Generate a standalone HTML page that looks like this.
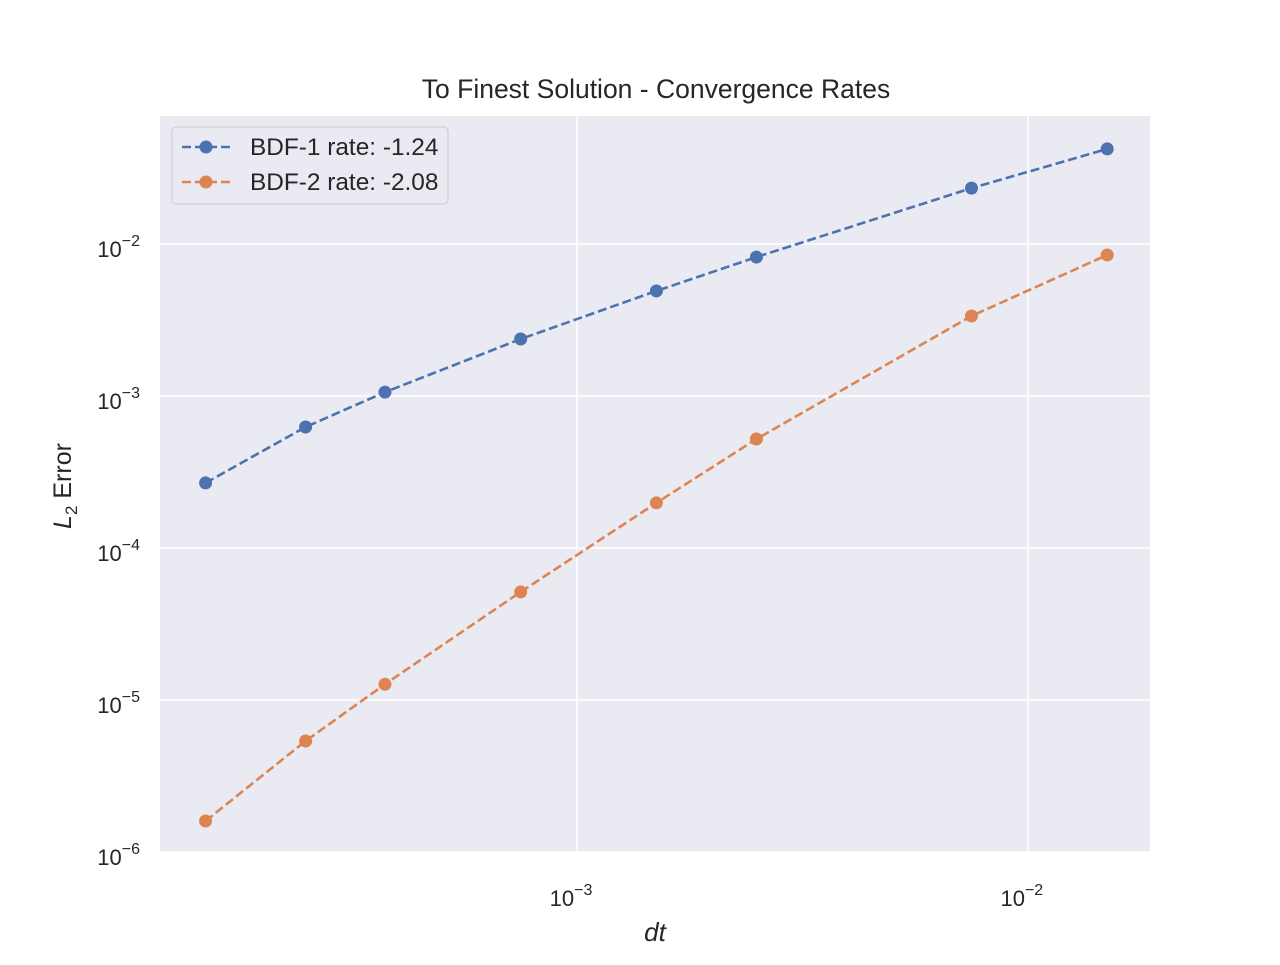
<!DOCTYPE html>
<html><head><meta charset="utf-8"><style>
body{margin:0;background:#fff;font-family:"Liberation Sans","DejaVu Sans",sans-serif;}
</style></head><body>
<svg id="chart" width="1280" height="960" xmlns="http://www.w3.org/2000/svg"></svg>
<script>
const dtValues=[1.5e-4,2.5e-4,3.75e-4,7.5e-4,1.5e-3,2.5e-3,7.5e-3,1.5e-2];
const bdf1Errors=[2.68e-4,6.25e-4,1.06e-3,2.37e-3,4.91e-3,8.2e-3,2.33e-2,4.22e-2];
const bdf2Errors=[1.6e-6,5.37e-6,1.27e-5,5.14e-5,1.98e-4,5.21e-4,3.36e-3,8.47e-3];
const xTickExps=[-3,-2];
const yTickExps=[-2,-3,-4,-5,-6];
const seriesNames=["BDF-1 rate: -1.24","BDF-2 rate: -2.08"];

const NS="http://www.w3.org/2000/svg";
const svg=document.getElementById('chart');
const L=160,R=1150,T=116,B=852;
const xMin=-3.925,xMax=-1.729,yMin=-6,yMax=-1.158;
const xs=v=>L+(Math.log10(v)-xMin)/(xMax-xMin)*(R-L);
const ys=v=>B-(Math.log10(v)-yMin)/(yMax-yMin)*(B-T);
function el(tag,attrs,parent){const e=document.createElementNS(NS,tag);for(const k in attrs)e.setAttribute(k,attrs[k]);(parent||svg).appendChild(e);return e;}

const bg=el('rect',{x:L,y:T,width:R-L,height:B-T,fill:'#eaeaf2'});



xTickExps.forEach(e=>{
  const x=xs(Math.pow(10,e));
  const g=el('line',{x1:x,x2:x,y1:T,y2:B,stroke:'#fff','stroke-width':1.5});
  
  
  const t=el('text',{x:x-6,y:906,'font-size':22,fill:'#262626','text-anchor':'middle'});
  
  
  t.innerHTML='10<tspan dy="-11" font-size="16">−'+(-e)+'</tspan>';
});
yTickExps.forEach(e=>{
  const y=ys(Math.pow(10,e));
  const g=el('line',{x1:L,x2:R,y1:y,y2:y,stroke:'#fff','stroke-width':1.5});
  
  
  const t=el('text',{x:140,y:y+13,'font-size':22,fill:'#262626','text-anchor':'end'});
  
  
  t.innerHTML='10<tspan dy="-11" font-size="16">−'+(-e)+'</tspan>';
});

const colors=['#4c72b0','#dd8452'];
[bdf1Errors,bdf2Errors].forEach((arr,si)=>{
  const pts=arr.map((v,i)=>xs(dtValues[i])+','+ys(v)).join(' ');
  const pl=el('polyline',{points:pts,fill:'none',stroke:colors[si],'stroke-width':2.6,'stroke-dasharray':'9,4'});
  
  
  arr.forEach((v,i)=>{
    const c=el('circle',{cx:xs(dtValues[i]),cy:ys(v),r:6.5,fill:colors[si]});
    
    
  });
});

const lg=el('g',{});


el('rect',{x:172,y:127,width:276,height:77,rx:4,fill:'#eaeaf2',stroke:'#ccc','stroke-width':1},lg);
seriesNames.forEach((n,i)=>{
  const y=147+i*35;
  const ent=el('g',{},lg);
  
  
  el('line',{x1:182,x2:230,y1:y,y2:y,stroke:colors[i],'stroke-width':2.6,'stroke-dasharray':'9,4'},ent);
  el('circle',{cx:206,cy:y,r:6.5,fill:colors[i]},ent);
  const t=el('text',{x:250,y:y+8,'font-size':24.4,fill:'#262626'},ent);
  t.textContent=n;
});

const title=el('text',{x:656,y:98,'font-size':26.5,fill:'#262626','text-anchor':'middle'});


title.textContent='To Finest Solution - Convergence Rates';
const xl=el('text',{x:655,y:941,'font-size':26,fill:'#262626','text-anchor':'middle','font-style':'italic'});


xl.textContent='dt';
const yl=el('text',{x:0,y:0,'font-size':25,fill:'#262626','text-anchor':'middle',transform:'translate(71,486) rotate(-90)'});


yl.innerHTML='<tspan font-style="italic">L</tspan><tspan dy="6" font-size="17">2</tspan><tspan dy="-6"> Error</tspan>';
</script>
</body></html>
